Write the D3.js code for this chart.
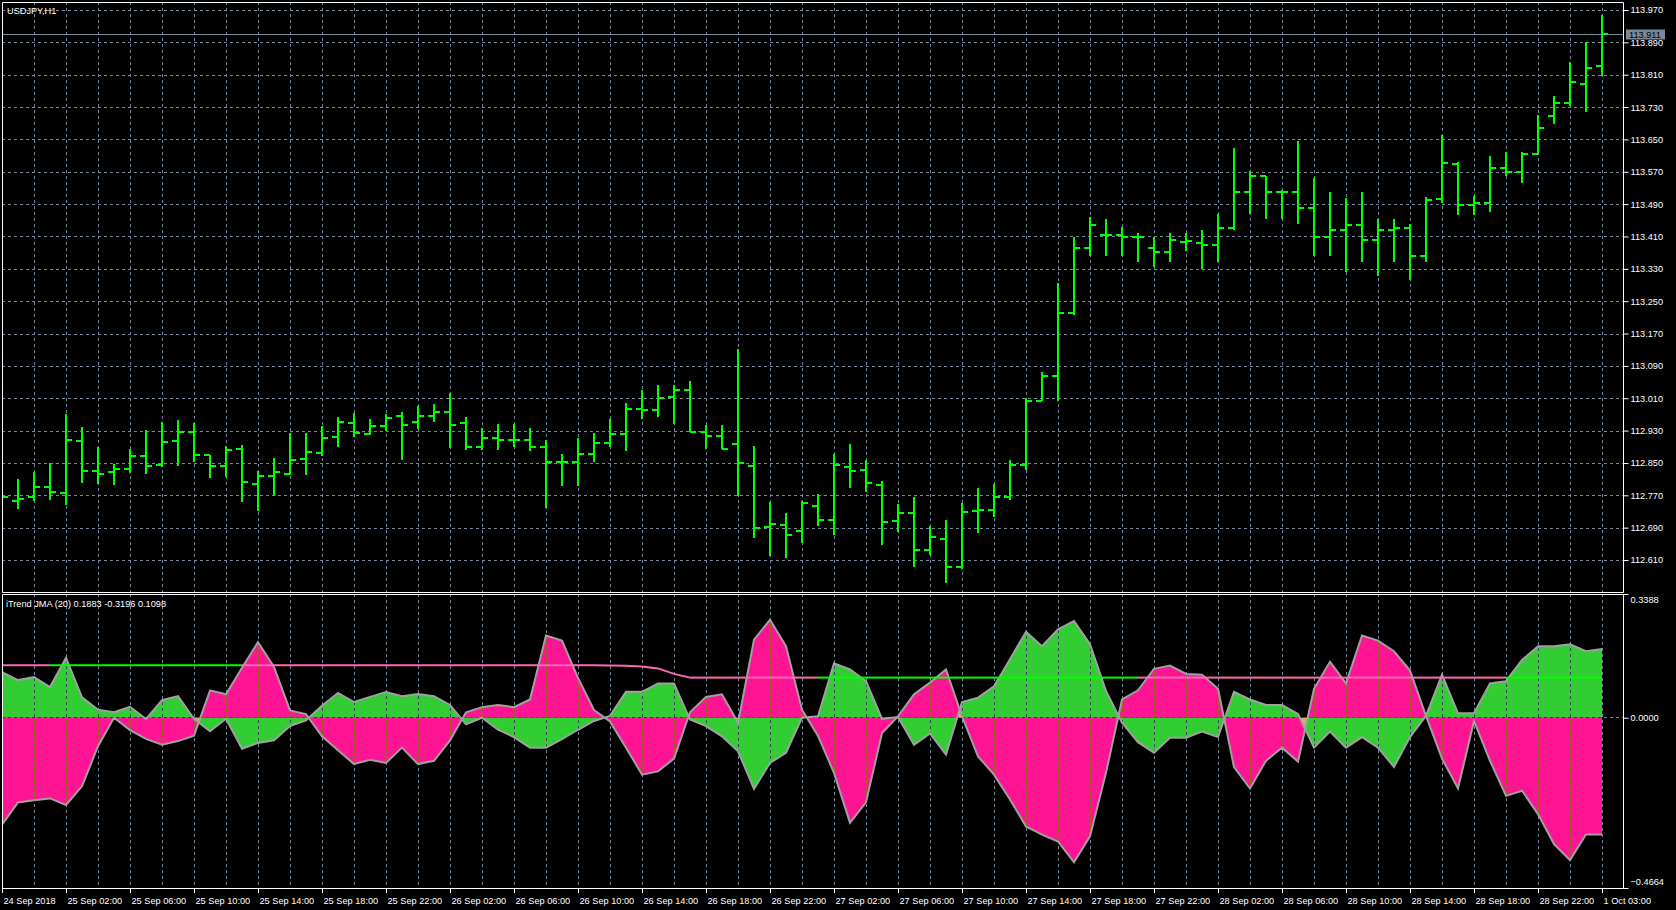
<!DOCTYPE html>
<html><head><meta charset="utf-8">
<script src="https://cdn.jsdelivr.net/npm/d3@7"></script>
<style>
html,body{margin:0;padding:0;background:#000;}
svg{display:block;}
text{font-family:"Liberation Sans",Arial,sans-serif;font-size:9.2px;fill:#fff;}
</style></head><body>
<svg id="chart" width="1676" height="910"></svg>
<script>
// ---------------- DATA ----------------
const symbolLabel = "USDJPY,H1";
const indicatorLabel = "iTrend JMA (20) 0.1883 -0.3196 0.1098";
const lastPrice = 113.911;

const barOpen = [112.765,112.758,112.767,112.792,112.777,112.906,112.832,112.829,112.837,112.868,
112.847,112.906,112.928,112.871,112.843,112.886,112.800,112.819,112.824,112.861,
112.876,112.916,112.950,112.924,112.943,112.968,112.953,112.968,112.978,112.950,
112.891,112.913,112.908,112.908,112.890,112.853,112.853,112.873,112.901,112.923,
112.985,112.982,113.014,113.031,112.927,112.918,112.898,112.843,112.692,112.698,
112.682,112.745,112.710,112.842,112.833,112.796,112.708,112.727,112.635,112.663,
112.593,112.732,112.734,112.767,112.846,113.004,113.066,113.222,113.383,113.415,
113.415,113.410,113.383,113.373,113.398,113.395,113.390,113.432,113.521,113.561,
113.521,113.521,113.482,113.410,113.427,113.440,113.403,113.427,113.432,113.363,
113.504,113.591,113.489,113.494,113.581,113.571,113.615,113.709,113.742,113.789,113.833];

const barHigh = [112.780,112.811,112.829,112.850,112.972,112.939,112.890,112.848,112.885,112.932,
112.952,112.957,112.951,112.871,112.893,112.895,112.832,112.863,112.925,112.925,
112.942,112.964,112.975,112.961,112.972,112.976,112.992,112.997,113.023,112.964,
112.937,112.947,112.947,112.937,112.908,112.873,112.913,112.925,112.960,113.000,
113.031,113.044,113.044,113.054,112.945,112.945,113.133,112.893,112.754,112.727,
112.757,112.774,112.873,112.898,112.858,112.806,112.749,112.767,112.695,112.710,
112.752,112.789,112.799,112.858,113.012,113.076,113.296,113.410,113.460,113.455,
113.435,113.420,113.410,113.420,113.420,113.427,113.467,113.630,113.573,113.561,
113.526,113.648,113.556,113.521,113.507,113.521,113.455,113.455,113.442,113.509,
113.662,113.596,113.511,113.610,113.620,113.620,113.712,113.759,113.843,113.893,113.959];

const barLow = [112.755,112.737,112.757,112.759,112.747,112.802,112.799,112.796,112.827,112.824,
112.840,112.843,112.854,112.814,112.816,112.755,112.733,112.770,112.822,112.821,
112.869,112.891,112.916,112.920,112.931,112.858,112.934,112.952,112.887,112.883,
112.883,112.883,112.890,112.880,112.739,112.794,112.794,112.853,112.890,112.881,
112.960,112.965,112.947,112.927,112.886,112.885,112.770,112.665,112.622,112.616,
112.653,112.695,112.673,112.789,112.779,112.648,112.680,112.593,112.623,112.554,
112.588,112.678,112.717,112.759,112.833,113.004,113.004,113.217,113.363,113.363,
113.363,113.348,113.336,113.348,113.375,113.331,113.348,113.427,113.467,113.455,
113.455,113.442,113.363,113.363,113.323,113.348,113.313,113.348,113.304,113.348,
113.494,113.464,113.464,113.472,113.561,113.544,113.615,113.690,113.734,113.719,113.808];

const barClose = [112.767,112.762,112.792,112.779,112.908,112.832,112.824,112.837,112.868,112.843,
112.903,112.928,112.871,112.843,112.883,112.804,112.819,112.829,112.858,112.879,
112.913,112.952,112.926,112.943,112.963,112.946,112.968,112.978,112.946,112.891,
112.913,112.908,112.908,112.890,112.853,112.853,112.873,112.900,112.923,112.984,
112.982,113.012,113.031,112.927,112.918,112.886,112.851,112.690,112.700,112.673,
112.752,112.710,112.846,112.831,112.801,112.705,112.727,112.635,112.668,112.593,
112.729,112.734,112.767,112.846,113.004,113.066,113.222,113.383,113.440,113.415,
113.410,113.410,113.373,113.403,113.400,113.390,113.432,113.521,113.561,113.521,
113.521,113.482,113.410,113.427,113.440,113.403,113.427,113.432,113.363,113.502,
113.593,113.489,113.494,113.581,113.571,113.615,113.680,113.742,113.794,113.828,113.911];

// iTrend buffers: bull (green fill) and bear (pink fill), plus signal level
const trendBull = [0.125,0.103,0.111,0.084,0.164,0.056,0.022,0.015,0.030,-0.004,
0.048,0.059,-0.003,-0.037,-0.003,-0.085,-0.069,-0.062,-0.023,-0.007,
0.033,0.068,0.043,0.057,0.070,0.059,0.065,0.059,0.035,-0.018,
0.000,-0.033,-0.053,-0.082,-0.082,-0.059,-0.033,-0.009,0.005,0.071,
0.071,0.094,0.094,-0.005,-0.023,-0.051,-0.092,-0.195,-0.124,-0.096,
0.000,0.004,0.149,0.132,0.100,-0.003,0.002,-0.074,-0.043,-0.101,
0.043,0.055,0.086,0.160,0.235,0.196,0.242,0.265,0.201,0.073,
-0.014,-0.067,-0.096,-0.055,-0.055,-0.038,-0.053,0.071,0.050,0.035,
0.035,0.010,-0.082,-0.038,-0.082,-0.053,-0.082,-0.135,-0.053,0.005,
0.118,0.012,0.012,0.094,0.100,0.158,0.196,0.196,0.201,0.182,0.188];

const trendBear = [-0.293,-0.232,-0.226,-0.221,-0.239,-0.188,-0.078,0.000,-0.034,-0.058,
-0.074,-0.064,-0.049,0.075,0.064,0.137,0.207,0.139,0.020,0.010,
-0.051,-0.089,-0.127,-0.115,-0.124,-0.082,-0.127,-0.118,-0.062,0.015,
0.029,0.035,0.029,0.050,0.225,0.211,0.109,0.021,-0.010,-0.082,
-0.156,-0.147,-0.112,0.015,0.057,0.064,-0.014,0.214,0.268,0.196,
0.022,-0.050,-0.151,-0.288,-0.232,-0.042,0.004,0.064,0.096,0.132,
0.004,-0.106,-0.156,-0.224,-0.298,-0.320,-0.339,-0.396,-0.325,-0.151,
0.050,0.075,0.134,0.143,0.120,0.118,0.079,-0.135,-0.194,-0.118,
-0.082,-0.120,0.079,0.153,0.094,0.225,0.211,0.182,0.129,0.005,
-0.112,-0.194,-0.009,-0.118,-0.214,-0.200,-0.264,-0.346,-0.390,-0.320,-0.320];

const signalLevel = [0.1437,0.1437,0.1437,0.1437,0.1437,0.1437,0.1437,0.1437,0.1437,0.1437,
0.1437,0.1437,0.1437,0.1437,0.1437,0.1437,0.1437,0.1437,0.1437,0.1437,
0.1437,0.1437,0.1437,0.1437,0.1437,0.1437,0.1437,0.1437,0.1437,0.1437,
0.1437,0.1437,0.1437,0.1437,0.1437,0.1437,0.1437,0.1437,0.1430,0.1420,
0.1400,0.1350,0.1200,0.1098,0.1098,0.1098,0.1098,0.1098,0.1098,0.1098,
0.1098,0.1098,0.1098,0.1098,0.1098,0.1098,0.1098,0.1098,0.1098,0.1098,
0.1098,0.1098,0.1098,0.1098,0.1098,0.1098,0.1098,0.1098,0.1098,0.1098,
0.1098,0.1098,0.1098,0.1098,0.1098,0.1098,0.1098,0.1098,0.1098,0.1098,
0.1098,0.1098,0.1098,0.1098,0.1098,0.1098,0.1098,0.1098,0.1098,0.1098,
0.1098,0.1098,0.1098,0.1098,0.1098,0.1098,0.1098,0.1098,0.1098,0.1098,0.1098];

// signal state per bar: "u" = up (green), "d" = down (pink)
const signalState = ("dddd" + "uuuuuuuuuuuu" + "dddddddddddddddddddddddddddddddddddd" +
  "uuuuuuuuuuuuuuuuuuuu" + "ddddddddddddddddddddddd" + "uuuuuu").split("");

const priceTicks = [113.970,113.890,113.810,113.730,113.650,113.570,113.490,113.410,113.330,
113.250,113.170,113.090,113.010,112.930,112.850,112.770,112.690,112.610];
const indTicks = [0.3388, 0.0000, -0.4664];

const xTickBars = [0,4,8,12,16,20,24,28,32,36,40,44,48,52,56,60,64,68,72,76,80,84,88,92,96,100];
const xTickLabels = ["24 Sep 2018","25 Sep 02:00","25 Sep 06:00","25 Sep 10:00","25 Sep 14:00",
"25 Sep 18:00","25 Sep 22:00","26 Sep 02:00","26 Sep 06:00","26 Sep 10:00","26 Sep 14:00",
"26 Sep 18:00","26 Sep 22:00","27 Sep 02:00","27 Sep 06:00","27 Sep 10:00","27 Sep 14:00",
"27 Sep 18:00","27 Sep 22:00","28 Sep 02:00","28 Sep 06:00","28 Sep 10:00","28 Sep 14:00",
"28 Sep 18:00","28 Sep 22:00","1 Oct 03:00"];

// ---------------- LAYOUT ----------------
const W = 1676, H = 910;
const plotL = 2, plotR = 1623;
const mainT = 2, mainB = 592;
const indT = 594, indB = 888;
const gridColor = "#778899";
const barColor = "#00ff00";
const bullFill = "#32cd32", bearFill = "#ff1493";
const outline = "#a0a0a0";

const svg = d3.select("#chart");
svg.append("rect").attr("width", W).attr("height", H).attr("fill", "#000");

const n = barOpen.length;
const x = d3.scaleLinear().domain([0, n - 1]).range([2, 1602]);
const y = d3.scaleLinear().domain([priceTicks[priceTicks.length - 1], priceTicks[0]]).range([560.5, 10.5]);
const yi = d3.scaleLinear().domain([indTicks[2], indTicks[0]]).range([indB, indT]);

const defs = svg.append("defs");
defs.append("clipPath").attr("id", "clipMain").append("rect")
  .attr("x", plotL + 1).attr("y", mainT + 1).attr("width", plotR - plotL - 1).attr("height", mainB - mainT - 1);
defs.append("clipPath").attr("id", "clipInd").append("rect")
  .attr("x", plotL + 1).attr("y", indT + 1).attr("width", plotR - plotL - 1).attr("height", indB - indT - 1);

const gridBars = d3.range(2, n, 2);

// ---------- main grid ----------
const gMain = svg.append("g").attr("clip-path", "url(#clipMain)");
gMain.selectAll("line.hg").data(priceTicks).join("line")
  .attr("x1", plotL).attr("x2", plotR)
  .attr("y1", d => Math.floor(y(d)) + 0.5).attr("y2", d => Math.floor(y(d)) + 0.5)
  .attr("stroke", gridColor).attr("stroke-dasharray", "3,3");
gMain.selectAll("line.vg").data(gridBars).join("line")
  .attr("x1", d => x(d) + 0.5).attr("x2", d => x(d) + 0.5)
  .attr("y1", mainT).attr("y2", mainB)
  .attr("stroke", gridColor).attr("stroke-dasharray", "3,3");

// current price line
gMain.append("line").attr("x1", plotL).attr("x2", plotR)
  .attr("y1", Math.floor(y(lastPrice)) + 0.5).attr("y2", Math.floor(y(lastPrice)) + 0.5)
  .attr("stroke", gridColor);

// OHLC bars
const bars = gMain.selectAll("g.bar").data(d3.range(n)).join("g");
bars.append("line")
  .attr("x1", i => x(i)).attr("x2", i => x(i))
  .attr("y1", i => Math.round(y(barHigh[i])))
  .attr("y2", i => Math.max(Math.round(y(barLow[i])), Math.round(y(barHigh[i])) + 1))
  .attr("stroke", barColor).attr("stroke-width", 2);
bars.append("line")
  .attr("x1", i => x(i) - 6).attr("x2", i => x(i))
  .attr("y1", i => Math.round(y(barOpen[i]))).attr("y2", i => Math.round(y(barOpen[i])))
  .attr("stroke", barColor).attr("stroke-width", 2);
bars.append("line")
  .attr("x1", i => x(i)).attr("x2", i => x(i) + 6)
  .attr("y1", i => Math.round(y(barClose[i]))).attr("y2", i => Math.round(y(barClose[i])))
  .attr("stroke", barColor).attr("stroke-width", 2);

// ---------- indicator ----------
const gInd = svg.append("g").attr("clip-path", "url(#clipInd)");
const area = d3.area().x((d, i) => x(i)).y0(() => yi(0)).y1(d => yi(d));
const line = d3.line().x((d, i) => x(i)).y(d => yi(d));
gInd.append("path").attr("d", area(trendBull)).attr("fill", bullFill);
gInd.append("path").attr("d", area(trendBear)).attr("fill", bearFill).style("mix-blend-mode", "difference");
gInd.selectAll("line.vg").data(gridBars).join("line")
  .attr("x1", d => x(d) + 0.5).attr("x2", d => x(d) + 0.5)
  .attr("y1", indT).attr("y2", indB)
  .attr("stroke", gridColor).attr("stroke-dasharray", "3,3").style("mix-blend-mode", "difference");
gInd.append("line").attr("x1", plotL).attr("x2", plotR)
  .attr("y1", Math.floor(yi(0)) + 0.5).attr("y2", Math.floor(yi(0)) + 0.5)
  .attr("stroke", gridColor).attr("stroke-dasharray", "3,3").style("mix-blend-mode", "difference");
gInd.append("path").attr("d", line(trendBull)).attr("fill", "none").attr("stroke", outline).attr("stroke-width", 2);
gInd.append("path").attr("d", line(trendBear)).attr("fill", "none").attr("stroke", outline).attr("stroke-width", 2);
gInd.selectAll("line.sig").data(d3.range(1, n)).join("line")
  .attr("x1", i => x(i - 1)).attr("x2", i => x(i))
  .attr("y1", i => yi(signalLevel[i - 1])).attr("y2", i => yi(signalLevel[i]))
  .attr("stroke", i => signalState[i] === "u" ? "#00ff00" : "#ff69b4")
  .attr("stroke-width", 2);

// ---------- frames ----------
const frame = svg.append("g").attr("stroke", "#fff").attr("fill", "none");
frame.append("path").attr("d",
  `M${plotL + 0.5},${mainT + 0.5}H${plotR + 0.5}V${mainB + 0.5}H${plotL + 0.5}Z` +
  `M${plotL + 0.5},${indT + 0.5}H${plotR + 0.5}V${indB + 0.5}H${plotL + 0.5}Z`);

// ---------- axes ----------
const yAxis = d3.axisRight(y).tickValues(priceTicks).tickFormat(d3.format(".3f"))
  .tickSize(5).tickPadding(2).offset(0);
const gy = svg.append("g").attr("transform", `translate(${plotR + 0.5},0)`).call(yAxis);
gy.select(".domain").remove();
gy.selectAll(".tick line").attr("stroke", "#fff");
gy.selectAll(".tick text").attr("fill", "#fff").attr("font-family", null).attr("font-size", null);

const yiAxis = d3.axisRight(yi).tickValues(indTicks).tickFormat(d3.format(".4f"))
  .tickSize(5).tickPadding(2);
const gyi = svg.append("g").attr("transform", `translate(${plotR + 0.5},0)`).call(yiAxis);
gyi.select(".domain").remove();
gyi.selectAll(".tick line").attr("stroke", "#fff");
gyi.selectAll(".tick text").attr("fill", "#fff").attr("font-family", null).attr("font-size", null)
  .attr("dy", (d, i) => i === 0 ? "0.95em" : (i === 2 ? "-0.35em" : "0.32em"));

const xAxis = d3.axisBottom(x).tickValues(xTickBars).tickFormat((d, i) => xTickLabels[i])
  .tickSize(5).tickPadding(4);
const gx = svg.append("g").attr("transform", `translate(0,${indB})`).call(xAxis);
gx.select(".domain").remove();
gx.selectAll(".tick line").attr("stroke", "#fff");
gx.selectAll(".tick text").attr("fill", "#fff").attr("font-family", null).attr("font-size", null)
  .attr("text-anchor", "start").attr("x", 1);

// last price label
const lpY = Math.floor(y(lastPrice)) + 0.5;
svg.append("rect").attr("x", plotR + 3).attr("y", lpY - 5).attr("width", 39).attr("height", 10).attr("fill", gridColor);
svg.append("text").attr("x", plotR + 6).attr("y", lpY + 3.5).style("fill", "#000").text(d3.format(".3f")(lastPrice));

// titles
svg.append("text").attr("x", 7).attr("y", 13.5).text(symbolLabel);
svg.append("text").attr("x", 6).attr("y", 606.5).text(indicatorLabel);
</script>
</body></html>
